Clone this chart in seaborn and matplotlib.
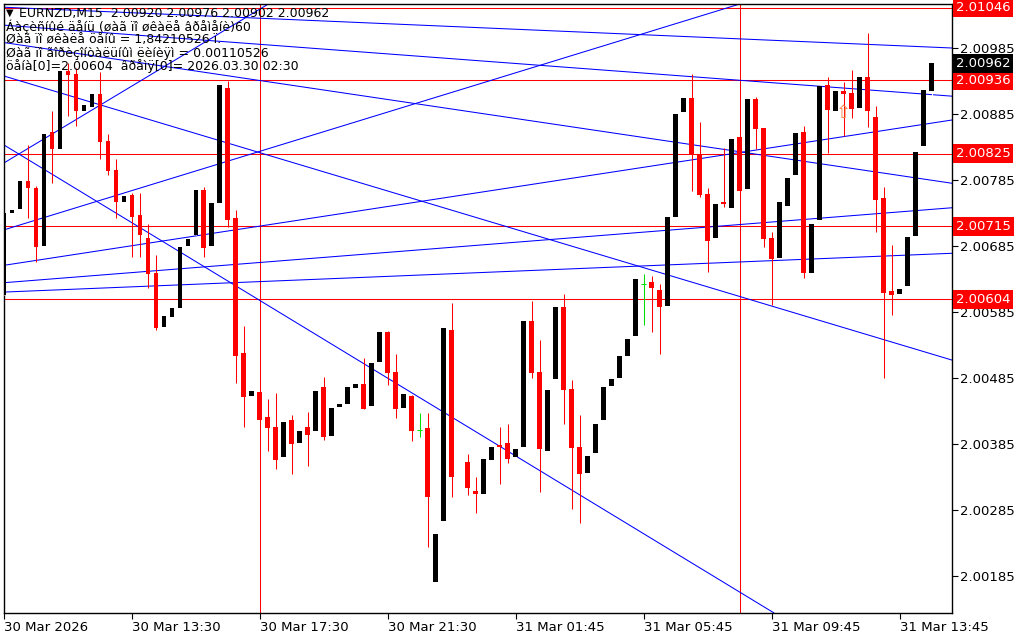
import numpy as np
import pandas as pd
import seaborn as sns
import matplotlib.pyplot as plt
from matplotlib.transforms import blended_transform_factory

# EURNZD M15 candles, bar 0 = 30 Mar 09:30
opens = [2.00610, 2.00735, 2.00741, 2.00783, 2.00773, 2.00685, 2.00858, 2.00832, 2.00950, 2.00946,
         2.00890, 2.00896, 2.00915, 2.00844, 2.00800, 2.00752, 2.00762, 2.00732, 2.00697, 2.00644,
         2.00563, 2.00578, 2.00591, 2.00685, 2.00702, 2.00770, 2.00685, 2.00750, 2.00924, 2.00727,
         2.00523, 2.00457, 2.00464, 2.00426, 2.00411, 2.00365, 2.00422, 2.00387, 2.00410, 2.00404,
         2.00472, 2.00397, 2.00441, 2.00445, 2.00470, 2.00476, 2.00443, 2.00509, 2.00555, 2.00494,
         2.00439, 2.00458, 2.00406, 2.00409, 2.00176, 2.00269, 2.00558, np.nan, 2.00358, 2.00314,
         2.00309, 2.00361, 2.00384, 2.00386, 2.00366, 2.00381, 2.00571, 2.00494, 2.00374, 2.00483,
         2.00592, 2.00469, 2.00381, 2.00341, 2.00372, 2.00421, 2.00473, 2.00485, 2.00519, 2.00549,
         2.00627, 2.00630, 2.00619, 2.00594, 2.00729, 2.00888, 2.00910, 2.00824, 2.00764, 2.00697,
         2.00751, 2.00743, 2.00850, 2.00771, 2.00907, 2.00864, 2.00697, 2.00667, 2.00746, 2.00792,
         2.00858, 2.00644, 2.00725, 2.00929, 2.00889, 2.00920, 2.00917, 2.00894, 2.00941, 2.00881,
         2.00758, 2.00617, 2.00613, 2.00625, 2.00700, 2.00836, 2.00920]
highs = [2.00735, 2.00740, 2.00783, 2.00838, 2.00776, 2.00855, 2.00890, 2.00950, 2.00962, 2.00954,
         2.00899, 2.00915, 2.00948, 2.00855, 2.00817, 2.00761, 2.00765, 2.00765, 2.00719, 2.00671,
         2.00579, 2.00591, 2.00684, 2.00696, 2.00770, 2.00775, 2.00750, 2.00929, 2.00935, 2.00740,
         2.00564, 2.00465, 2.00464, 2.00453, 2.00463, 2.00418, 2.00429, 2.00405, 2.00433, 2.00465,
         2.00486, 2.00440, 2.00445, 2.00471, 2.00476, 2.00515, 2.00508, 2.00555, 2.00556, 2.00521,
         2.00460, 2.00459, 2.00432, 2.00432, 2.00249, 2.00560, 2.00598, np.nan, 2.00370, 2.00335,
         2.00362, 2.00381, 2.00411, 2.00415, 2.00378, 2.00571, 2.00601, 2.00542, 2.00467, 2.00593,
         2.00612, 2.00482, 2.00429, 2.00367, 2.00416, 2.00471, 2.00484, 2.00518, 2.00544, 2.00635,
         2.00642, 2.00639, 2.00627, 2.00729, 2.00885, 2.00909, 2.00946, 2.00873, 2.00773, 2.00748,
         2.00834, 2.00847, 2.00850, 2.00907, 2.00911, 2.00864, 2.00706, 2.00752, 2.00788, 2.00856,
         2.00867, 2.00719, 2.00927, 2.00941, 2.00920, 2.00934, 2.00951, 2.00941, 2.01007, 2.00897,
         2.00775, 2.00686, 2.00620, 2.00698, 2.00827, 2.00922, 2.00976]
lows = [2.00610, 2.00735, 2.00741, 2.00728, 2.00661, 2.00685, 2.00781, 2.00832, 2.00882, 2.00867,
        2.00890, 2.00896, 2.00817, 2.00792, 2.00728, 2.00752, 2.00669, 2.00669, 2.00622, 2.00558,
        2.00563, 2.00578, 2.00591, 2.00685, 2.00702, 2.00669, 2.00685, 2.00750, 2.00714, 2.00478,
        2.00410, 2.00457, 2.00421, 2.00374, 2.00347, 2.00365, 2.00339, 2.00387, 2.00352, 2.00404,
        2.00391, 2.00397, 2.00441, 2.00445, 2.00470, 2.00438, 2.00443, 2.00509, 2.00475, 2.00424,
        2.00439, 2.00390, 2.00396, 2.00229, 2.00176, 2.00269, 2.00305, np.nan, 2.00308, 2.00280,
        2.00309, 2.00361, 2.00325, 2.00356, 2.00366, 2.00381, 2.00485, 2.00313, 2.00374, 2.00483,
        2.00416, 2.00286, 2.00266, 2.00341, 2.00372, 2.00421, 2.00473, 2.00485, 2.00519, 2.00549,
        2.00566, 2.00555, 2.00521, 2.00594, 2.00729, 2.00888, 2.00768, 2.00760, 2.00645, 2.00697,
        2.00744, 2.00743, 2.00769, 2.00771, 2.00832, 2.00684, 2.00595, 2.00667, 2.00746, 2.00792,
        2.00637, 2.00644, 2.00725, 2.00826, 2.00889, 2.00851, 2.00879, 2.00894, 2.00866, 2.00706,
        2.00485, 2.00581, 2.00613, 2.00625, 2.00700, 2.00836, 2.00902]
closes = [2.00735, 2.00740, 2.00783, 2.00773, 2.00684, 2.00855, 2.00832, 2.00950, 2.00944, 2.00890,
          2.00899, 2.00915, 2.00843, 2.00799, 2.00752, 2.00761, 2.00729, 2.00701, 2.00642, 2.00560,
          2.00579, 2.00591, 2.00684, 2.00696, 2.00770, 2.00682, 2.00750, 2.00929, 2.00724, 2.00518,
          2.00456, 2.00465, 2.00421, 2.00409, 2.00361, 2.00418, 2.00385, 2.00405, 2.00398, 2.00465,
          2.00395, 2.00440, 2.00445, 2.00471, 2.00476, 2.00438, 2.00508, 2.00555, 2.00492, 2.00438,
          2.00460, 2.00405, 2.00406, 2.00304, 2.00249, 2.00560, 2.00335, np.nan, 2.00319, 2.00309,
          2.00362, 2.00381, 2.00381, 2.00363, 2.00378, 2.00571, 2.00492, 2.00378, 2.00467, 2.00593,
          2.00467, 2.00379, 2.00339, 2.00367, 2.00416, 2.00471, 2.00484, 2.00518, 2.00544, 2.00635,
          2.00627, 2.00622, 2.00592, 2.00729, 2.00885, 2.00909, 2.00824, 2.00762, 2.00692, 2.00748,
          2.00748, 2.00847, 2.00769, 2.00907, 2.00863, 2.00695, 2.00666, 2.00752, 2.00788, 2.00856,
          2.00644, 2.00719, 2.00927, 2.00891, 2.00920, 2.00916, 2.00893, 2.00941, 2.00890, 2.00754,
          2.00614, 2.00610, 2.00620, 2.00698, 2.00827, 2.00922, 2.00962]

# horizontal levels (step 0.00110526) and current bid
levels = [2.01046, 2.00936, 2.00825, 2.00715, 2.00604]
bid = 2.00962
# vertical marker lines (bar index)
vlines_at = [32, 92]
# trend lines: start bar, start price, end bar, end price
tl_x0 = [-0.4, -0.4, -0.4, -0.4, -0.4, -0.4, -0.4, -0.4, -0.4, -0.4]
tl_p0 = [2.01047, 2.01020, 2.00994, 2.00944, 2.00808, 2.00708, 2.00841, 2.00655, 2.00629, 2.00615]
tl_x1 = [118.6, 118.6, 118.6, 118.6, 33.1, 92.1, 96.3, 118.6, 118.6, 118.6]
tl_p1 = [2.00985, 2.00912, 2.00780, 2.00512, 2.01052, 2.01052, 2.00129, 2.00876, 2.00743, 2.00674]
# signal arrow
arrow_bar = 105
arrow_price = 2.00887

tick_bars = [0, 16, 32, 48, 64, 80, 96, 112]
tick_labels = ["30 Mar 2026", "30 Mar 13:30", "30 Mar 17:30", "30 Mar 21:30",
               "31 Mar 01:45", "31 Mar 05:45", "31 Mar 09:45", "31 Mar 13:45"]
price_ticks = [2.00985, 2.00885, 2.00785, 2.00685, 2.00585, 2.00485, 2.00385, 2.00285, 2.00185]

header = ["EURNZD,M15  2.00920 2.00976 2.00902 2.00962",
          "Áàçèñíûé äåíü (øàã ïî øêàëå âðåìåíè)60",
          "Øàã ïî øêàëå öåíû = 1,84210526 ï.",
          "Øàã ïî ãîðèçîíòàëüíûì ëèíèÿì = 0.00110526",
          "öåíà[0]=2.00604  âðåìÿ[0]= 2026.03.30 02:30"]

sns.set_theme(style="white")
plt.rcParams['font.family'] = ['DejaVu Sans']

df = pd.DataFrame({"open": opens, "high": highs, "low": lows, "close": closes})
df["bar"] = np.arange(len(df))

fig = plt.figure(figsize=(10.24, 6.4), dpi=100)
ax = fig.add_axes([4 / 1024, 1 - 613 / 640, 948 / 1024, 609 / 640])
ax.set_xlim((4 - 3.5) / 8, (952 - 3.5) / 8)
ax.set_ylim(2.001289, 2.010517)

lw = 0.75
# horizontal and vertical red lines
for lv in levels:
    ax.axhline(lv, color="#ff0000", lw=lw, zorder=1)
for vb in vlines_at:
    ax.axvline(vb, color="#ff0000", lw=lw, zorder=1)

# trend lines
rows = []
for i in range(len(tl_x0)):
    rows.append({"line": i, "bar": tl_x0[i], "price": tl_p0[i]})
    rows.append({"line": i, "bar": tl_x1[i], "price": tl_p1[i]})
tl = pd.DataFrame(rows)
sns.lineplot(data=tl, x="bar", y="price", units="line", estimator=None, color="#0000ff",
             lw=lw, ax=ax, zorder=1, legend=False)

# candles
w = 0.6
min_h = 0.000022
for _, r in df.iterrows():
    if np.isnan(r["open"]):
        continue
    b = r["bar"]
    if r["close"] > r["open"]:
        body_c, wick_c = "black", "white"
    elif r["close"] < r["open"]:
        body_c, wick_c = "#ff0000", "#ff0000"
    else:
        body_c, wick_c = "#00e000", "#00e000"
    ax.vlines(b, r["low"], r["high"], color=wick_c, lw=lw, zorder=3)
    if body_c == "#00e000":
        ax.hlines(r["open"], b - w / 2, b + w / 2, color=body_c, lw=lw, zorder=3)
        continue
    lo = min(r["open"], r["close"])
    h = max(abs(r["close"] - r["open"]), min_h)
    ax.bar(b, h, bottom=lo, width=w, color=body_c, linewidth=0, zorder=4)

ax.text(arrow_bar, arrow_price, "⇧", color="#ff8040", fontsize=13, ha="center", va="center",
        zorder=5)

# axes styling
for s in ax.spines.values():
    s.set_color("black")
    s.set_linewidth(1)
ax.set_xlabel("")
ax.set_ylabel("")
ax.grid(False)
ax.yaxis.tick_right()
ax.set_yticks(price_ticks)
ax.set_yticklabels([f"{p:.5f}" for p in price_ticks])
ax.tick_params(axis="y", direction="out", length=4, width=0.8, pad=2, labelsize=9.5, colors="black")
ax.set_xticks(tick_bars)
ax.set_xticklabels(tick_labels, ha="left")
ax.tick_params(axis="x", direction="out", length=4, width=0.8, pad=2, labelsize=9.5, colors="black")
ax.tick_params(which="both", bottom=True, right=True, left=False, top=False)

trans = blended_transform_factory(ax.transAxes, ax.transData)
for lv in levels:
    ax.text(1.004, lv, f"{lv:.5f}", transform=trans, color="white", fontsize=9.5, va="center",
            ha="left", clip_on=False, zorder=6,
            bbox=dict(boxstyle="square,pad=0.22", fc="#ff0000", ec="none"))
ax.text(1.004, bid, f"{bid:.5f}", transform=trans, color="white", fontsize=9.5, va="center",
        ha="left", clip_on=False, zorder=6,
        bbox=dict(boxstyle="square,pad=0.22", fc="black", ec="none"))

# header text
fig.text(6 / 1024, 1 - 13 / 640, "▼", fontsize=7, color="black", va="center")
ys = [13, 27, 40, 53, 66]
for i, line in enumerate(header):
    x0 = 19 if i == 0 else 6
    fig.text(x0 / 1024, 1 - ys[i] / 640, line, fontsize=9, color="black", va="center")

fig.savefig("out.png", dpi=100)
